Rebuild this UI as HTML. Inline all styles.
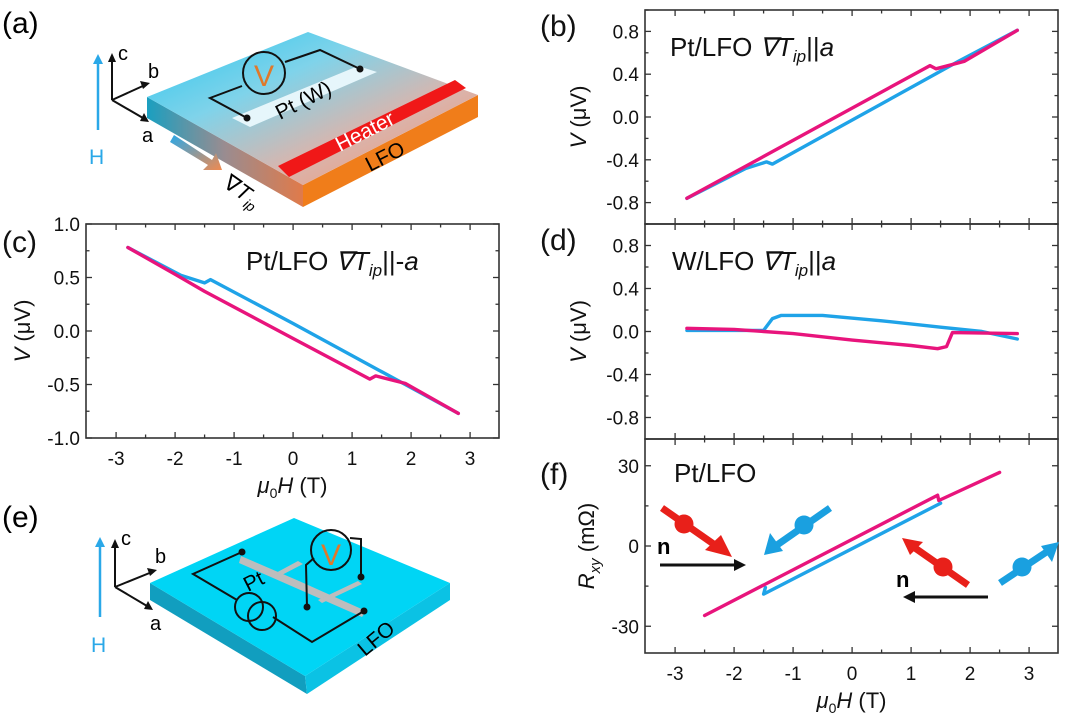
<!DOCTYPE html>
<html><head><meta charset="utf-8">
<style>
html,body{margin:0;padding:0;background:#fff;}
svg{display:block;font-family:"Liberation Sans",sans-serif;}
</style></head>
<body>
<svg id="fig" width="1080" height="719" viewBox="0 0 1080 719" xmlns="http://www.w3.org/2000/svg">
<defs>
<linearGradient id="topGrad" x1="0" y1="0" x2="1" y2="1">
<stop offset="0" stop-color="#29c6ee"/><stop offset="0.35" stop-color="#7fd3ea"/><stop offset="0.65" stop-color="#d9b5ad"/><stop offset="1" stop-color="#f3906c"/></linearGradient>
<linearGradient id="sideGrad" x1="0" y1="0" x2="1" y2="0">
<stop offset="0" stop-color="#1a9fc0"/><stop offset="0.5" stop-color="#9a8c90"/><stop offset="1" stop-color="#e07a4a"/></linearGradient>
<linearGradient id="gradArrow" x1="0" y1="0" x2="1" y2="1">
<stop offset="0" stop-color="#2aa8e8"/><stop offset="1" stop-color="#f08a50"/></linearGradient>
</defs>

<!-- Panel (a) diagram -->
<g>
<text x="2" y="33" font-size="30">(a)</text>
<polygon points="147,97 147,118 303,207 303,185" fill="url(#sideGrad)"/>
<polygon points="303,185 478,95 478,117 303,207" fill="#f07d1a"/>
<polygon points="147,97 308,32 478,95 303,185" fill="url(#topGrad)"/>
<polygon points="278,166 455,80 466,88 289,177" fill="#f01818"/>
<polygon points="232,118 358,66 377,72 250,127" fill="#e6f6fb"/>
<polyline points="247,118 210,98 242,86" fill="none" stroke="#111" stroke-width="2"/>
<polyline points="285,62 320,50 360,69" fill="none" stroke="#111" stroke-width="2"/>
<circle cx="247" cy="118" r="3.5" fill="#111"/><circle cx="360" cy="69" r="3.5" fill="#111"/>
<circle cx="264" cy="73" r="21" fill="none" stroke="#111" stroke-width="2"/>
<text x="264" y="86" font-size="30" fill="#e0782a" text-anchor="middle">V</text>
<text x="280" y="120" font-size="21" transform="rotate(-27 280 120)">Pt (W)</text>
<text x="340" y="152" font-size="21" fill="#fff" transform="rotate(-27 340 152)">Heater</text>
<text x="370" y="172" font-size="21" transform="rotate(-27 370 172)">LFO</text>
<line x1="98" y1="130" x2="98" y2="62" stroke="#2aa8e8" stroke-width="2.5"/>
<polygon points="93,64 98,54 103,64" fill="#2aa8e8"/>
<text x="89" y="164" font-size="21" fill="#2aa8e8">H</text>
<line x1="112" y1="100" x2="112" y2="60" stroke="#111" stroke-width="2"/><polygon points="108,62 112,53 116,62" fill="#111"/>
<line x1="112" y1="100" x2="145" y2="85" stroke="#111" stroke-width="2"/><polygon points="140,81 150,83 143,89" fill="#111"/>
<line x1="112" y1="100" x2="143" y2="118" stroke="#111" stroke-width="2"/><polygon points="140,121 149,122 144,113" fill="#111"/>
<text x="118" y="60" font-size="20">c</text><text x="148" y="78" font-size="20">b</text><text x="142" y="142" font-size="20">a</text>
<polygon points="170,142 174,135 212,160 216,153 222,170 203,170 208,165" fill="url(#gradArrow)"/>
<text x="222" y="186" font-size="22" transform="rotate(35 222 186)">∇<tspan font-style="italic">T</tspan><tspan font-size="14" font-style="italic" dy="5">ip</tspan></text>
</g>

<!-- Panel (e) diagram -->
<g>
<text x="2" y="527" font-size="30">(e)</text>
<polygon points="150,583 150,600 307,694 305,676" fill="#119ebf"/>
<polygon points="305,676 450,583 450,600 307,694" fill="#0bc2e4"/>
<polygon points="150,583 294,518 450,583 305,676" fill="#00d5f5"/>
<polygon points="241,556 299,581 366,611 362,617 239,563" fill="#bdbdbd"/>
<polygon points="272,575 298,561 303,564 276,578" fill="#bdbdbd"/>
<polygon points="318,600 358,581 362,584 322,603" fill="#bdbdbd"/>
<polyline points="242,552 193,574 237,600" fill="none" stroke="#111" stroke-width="2"/>
<polyline points="273,617 312,642 364,611" fill="none" stroke="#111" stroke-width="2"/>
<circle cx="249" cy="607" r="14" fill="none" stroke="#111" stroke-width="2"/>
<circle cx="262" cy="616" r="14" fill="none" stroke="#111" stroke-width="2"/>
<circle cx="242" cy="552" r="3.5" fill="#111"/><circle cx="364" cy="611" r="3.5" fill="#111"/>
<circle cx="307" cy="607" r="3.5" fill="#111"/><circle cx="361" cy="577" r="3.5" fill="#111"/>
<polyline points="307,607 306,565 314,558" fill="none" stroke="#111" stroke-width="2"/>
<polyline points="361,577 361,539 350,538" fill="none" stroke="#111" stroke-width="2"/>
<circle cx="331" cy="550" r="20" fill="none" stroke="#111" stroke-width="2"/>
<text x="331" y="565" font-size="30" fill="#e0782a" text-anchor="middle">V</text>
<text x="248" y="592" font-size="21" transform="rotate(-27 248 592)">Pt</text>
<text x="365" y="657" font-size="21" transform="rotate(-40 365 657)">LFO</text>
<line x1="100" y1="617" x2="100" y2="545" stroke="#2aa8e8" stroke-width="2.5"/>
<polygon points="95,547 100,537 105,547" fill="#2aa8e8"/>
<text x="91" y="652" font-size="21" fill="#2aa8e8">H</text>
<line x1="115" y1="587" x2="115" y2="545" stroke="#111" stroke-width="2"/><polygon points="111,548 115,539 119,548" fill="#111"/>
<line x1="115" y1="587" x2="152" y2="572" stroke="#111" stroke-width="2"/><polygon points="147,568 157,570 150,576" fill="#111"/>
<line x1="115" y1="587" x2="147" y2="606" stroke="#111" stroke-width="2"/><polygon points="144,609 153,610 148,601" fill="#111"/>
<text x="121" y="545" font-size="20">c</text><text x="155" y="563" font-size="20">b</text><text x="150" y="630" font-size="20">a</text>
</g>

<g id="charts"></g>

<!-- spin icons in (f) -->
<g>
<line x1="662" y1="508" x2="715" y2="545" stroke="#e8201a" stroke-width="7"/>
<polygon points="705,550 721,535 732,557" fill="#e8201a"/>
<circle cx="684" cy="524" r="9.5" fill="#e8201a"/>
<line x1="830" y1="508" x2="777" y2="545" stroke="#1aa0e0" stroke-width="7"/>
<polygon points="770,533 783,551 764,555" fill="#1aa0e0"/>
<circle cx="804" cy="525" r="9.5" fill="#1aa0e0"/>
<line x1="660" y1="565" x2="737" y2="565" stroke="#111" stroke-width="3"/>
<polygon points="734,559 746,565 734,571" fill="#111"/>
<text x="657" y="554" font-size="22" font-weight="bold">n</text>
<line x1="968" y1="585" x2="915" y2="548" stroke="#e8201a" stroke-width="7"/>
<polygon points="902,538 923,542 910,555" fill="#e8201a"/>
<circle cx="943" cy="567" r="9.5" fill="#e8201a"/>
<line x1="1000" y1="583" x2="1048" y2="551" stroke="#1aa0e0" stroke-width="7"/>
<polygon points="1059,542 1052,562 1041,546" fill="#1aa0e0"/>
<circle cx="1022" cy="567" r="9.5" fill="#1aa0e0"/>
<line x1="988" y1="597" x2="912" y2="597" stroke="#111" stroke-width="3"/>
<polygon points="915,591 903,597 915,603" fill="#111"/>
<text x="896" y="587" font-size="22" font-weight="bold">n</text>
</g>
</svg>

<script>
// ---- data ----
const bBlueX = [-2.8, -1.8, -1.45, -1.35, 1.8, 2.8];
const bBlueY = [-0.76, -0.48, -0.42, -0.44, 0.52, 0.81];
const bPinkX = [-2.8, 1.32, 1.42, 1.9, 2.8];
const bPinkY = [-0.76, 0.48, 0.45, 0.52, 0.81];

const cBlueX = [-2.8, -1.9, -1.5, -1.4, 0, 1.8, 2.8];
const cBlueY = [0.78, 0.52, 0.45, 0.48, 0.07, -0.47, -0.77];
const cPinkX = [-2.8, -2, -1.5, 0, 1.3, 1.4, 1.9, 2.8];
const cPinkY = [0.78, 0.53, 0.37, -0.07, -0.45, -0.42, -0.49, -0.77];

const dBlueX = [-2.8, -1.5, -1.35, -1.2, -0.5, 0.5, 1.5, 2.2, 2.8];
const dBlueY = [0.01, 0.01, 0.12, 0.15, 0.15, 0.1, 0.04, 0.0, -0.07];
const dPinkX = [-2.8, -2, -1, 0, 1, 1.45, 1.6, 1.7, 2.8];
const dPinkY = [0.03, 0.02, -0.02, -0.08, -0.13, -0.16, -0.14, -0.01, -0.02];

const fBlueX = [-1.47, -1.5, 1.5];
const fBlueY = [-15.5, -18, 16];
const fPinkX = [-2.5, 1.45, 1.47, 2.5];
const fPinkY = [-26, 19, 17, 27.5];

const xTicks = [-3, -2, -1, 0, 1, 2, 3];
const xTickLabels = ["-3", "-2", "-1", "0", "1", "2", "3"];
const bdTicks = [-0.8, -0.4, 0, 0.4, 0.8];
const bdTickLabels = ["-0.8", "-0.4", "0.0", "0.4", "0.8"];
const cTicks = [-1, -0.5, 0, 0.5, 1];
const cTickLabels = ["-1.0", "-0.5", "0.0", "0.5", "1.0"];
const fTicks = [-30, 0, 30];
const fTickLabels = ["-30", "0", "30"];

const NS = "http://www.w3.org/2000/svg";
const root = document.getElementById('charts');
function mk(tag, attrs, parent) {
  const e = document.createElementNS(NS, tag);
  for (const k in attrs) e.setAttribute(k, attrs[k]);
  parent.appendChild(e);
  return e;
}

function panel(cfg) {
  const g = mk('g', {}, root);
  
  
  const {x0, x1, y0, y1, ymin, ymax} = cfg;
  const sx = v => x0 + (v - (-3.51)) / 7 * (x1 - x0);
  const sy = v => y1 - (v - ymin) / (ymax - ymin) * (y1 - y0);
  const frame = mk('rect', {x: x0, y: y0, width: x1 - x0, height: y1 - y0, fill: 'none', stroke: '#333', 'stroke-width': 1.6}, g);
  
  
  for (let v = -3; v <= 3.001; v += 0.5) {
    const len = Math.abs(v - Math.round(v)) < 1e-6 ? 6 : 3.5;
    const X = sx(v);
    mk('line', {x1: X, y1: y1, x2: X, y2: y1 - len, stroke: '#333', 'stroke-width': 1.3}, g);
    mk('line', {x1: X, y1: y0, x2: X, y2: y0 + len, stroke: '#333', 'stroke-width': 1.3}, g);
  }
  const step = cfg.yTicks[1] - cfg.yTicks[0];
  for (let v = cfg.yTicks[0] - step; v <= cfg.yTicks[cfg.yTicks.length - 1] + step + 1e-6; v += step / 2) {
    if (v < ymin - 1e-6 || v > ymax + 1e-6) continue;
    const major = cfg.yTicks.some(t => Math.abs(t - v) < 1e-6);
    const len = major ? 6 : 3.5;
    const Y = sy(v);
    mk('line', {x1: x0, y1: Y, x2: x0 + len, y2: Y, stroke: '#333', 'stroke-width': 1.3}, g);
    mk('line', {x1: x1, y1: Y, x2: x1 - len, y2: Y, stroke: '#333', 'stroke-width': 1.3}, g);
  }
  cfg.yTicks.forEach((v, i) => {
    const t = mk('text', {x: x0 - 6, y: sy(v) + 7, 'font-size': 19, 'text-anchor': 'end', fill: '#111'}, g);
    t.textContent = cfg.yLabels[i];
    
    
  });
  if (cfg.xLabels) {
    xTicks.forEach((v, i) => {
      const t = mk('text', {x: sx(v), y: y1 + 27, 'font-size': 19, 'text-anchor': 'middle', fill: '#111'}, g);
      t.textContent = xTickLabels[i];
      
      
    });
    const xt = mk('text', {x: (x0 + x1) / 2, y: y1 + 55, 'font-size': 22, 'text-anchor': 'middle', fill: '#111'}, g);
    xt.innerHTML = '<tspan font-style="italic">μ</tspan><tspan font-size="14" dy="5">0</tspan><tspan dy="-5" font-style="italic">H</tspan> (T)';
    
    
  }
  const yt = mk('text', {x: 0, y: 0, 'font-size': 22, 'text-anchor': 'middle', fill: '#111', transform: `translate(${cfg.ytx},${(y0 + y1) / 2}) rotate(-90)`}, g);
  yt.innerHTML = cfg.yTitle;
  
  
  const pl = mk('text', {x: cfg.plx, y: cfg.ply, 'font-size': 30, fill: '#111'}, g);
  pl.textContent = cfg.label;
  
  
  const tt = mk('text', {x: cfg.tx, y: cfg.ty, 'font-size': 26, fill: '#111'}, g);
  tt.innerHTML = cfg.title;
  
  
  cfg.series.forEach(s => {
    const pts = s.x.map((v, i) => sx(v).toFixed(1) + ',' + sy(s.y[i]).toFixed(1)).join(' ');
    const p = mk('polyline', {points: pts, fill: 'none', stroke: s.color, 'stroke-width': 3.4, 'stroke-linejoin': 'round', 'stroke-linecap': 'round'}, g);
    
    
  });
}

const BLUE = '#1fa3e8', PINK = '#e8147c';
const gradT = '<tspan font-style="italic">∇T</tspan><tspan font-size="17" font-style="italic" dy="6">ip</tspan><tspan dy="-6">||</tspan>';
const vTitle = '<tspan font-style="italic">V</tspan> (μV)';

panel({name: 'panel-b', x0: 645, x1: 1058, y0: 10, y1: 224, ymin: -1, ymax: 1,
  yTicks: bdTicks, yLabels: bdTickLabels, ytx: 586, yTitle: vTitle, label: '(b)', plx: 540, ply: 36,
  tx: 670, ty: 56, title: 'Pt/LFO  ' + gradT + '<tspan font-style="italic">a</tspan>',
  series: [{x: bBlueX, y: bBlueY, color: BLUE, name: 'series-b-blue'}, {x: bPinkX, y: bPinkY, color: PINK, name: 'series-b-pink'}]});
panel({name: 'panel-d', x0: 645, x1: 1058, y0: 224, y1: 439, ymin: -1, ymax: 1,
  yTicks: bdTicks, yLabels: bdTickLabels, ytx: 586, yTitle: vTitle, label: '(d)', plx: 540, ply: 250,
  tx: 672, ty: 270, title: 'W/LFO  ' + gradT + '<tspan font-style="italic">a</tspan>',
  series: [{x: dBlueX, y: dBlueY, color: BLUE, name: 'series-d-blue'}, {x: dPinkX, y: dPinkY, color: PINK, name: 'series-d-pink'}]});
panel({name: 'panel-f', x0: 645, x1: 1058, y0: 439, y1: 653, ymin: -40, ymax: 40,
  yTicks: fTicks, yLabels: fTickLabels, ytx: 594, yTitle: '<tspan font-style="italic">R</tspan><tspan font-size="15" font-style="italic" dy="6">xy</tspan><tspan dy="-6"> (mΩ)</tspan>',
  label: '(f)', plx: 540, ply: 484, xLabels: true,
  tx: 674, ty: 482, title: 'Pt/LFO',
  series: [{x: fBlueX, y: fBlueY, color: BLUE, name: 'series-f-blue'}, {x: fPinkX, y: fPinkY, color: PINK, name: 'series-f-pink'}]});
panel({name: 'panel-c', x0: 86, x1: 499, y0: 224, y1: 438, ymin: -1, ymax: 1,
  yTicks: cTicks, yLabels: cTickLabels, ytx: 30, yTitle: vTitle, label: '(c)', plx: 2, ply: 252,
  tx: 246, ty: 270, title: 'Pt/LFO  ' + gradT + '-<tspan font-style="italic">a</tspan>', xLabels: true,
  series: [{x: cBlueX, y: cBlueY, color: BLUE, name: 'series-c-blue'}, {x: cPinkX, y: cPinkY, color: PINK, name: 'series-c-pink'}]});
</script>
</body></html>
